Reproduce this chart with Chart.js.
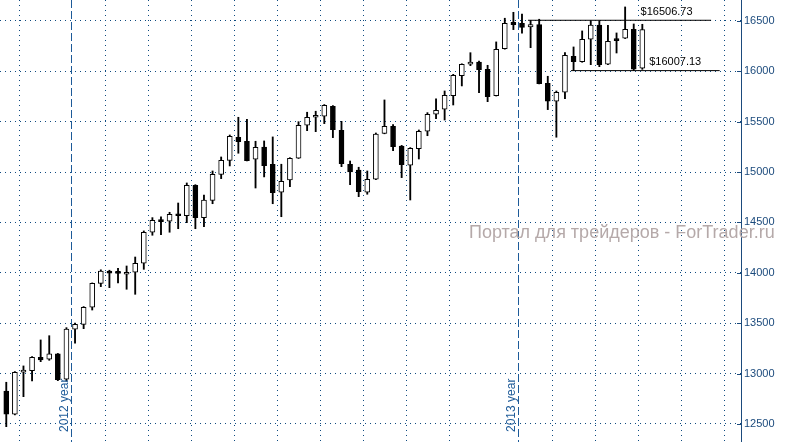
<!DOCTYPE html>
<html>
<head>
<meta charset="utf-8">
<script src="https://cdn.jsdelivr.net/npm/chart.js@4.4.0/dist/chart.umd.min.js"></script>
<style>
  html, body { margin: 0; padding: 0; background: #fff; }
  #wrap { width: 785px; height: 442px; }
</style>
</head>
<body>
<div id="wrap"><canvas id="chart"></canvas></div>
<script>
// weekly candles, index 0 = first bar on the left
const opens  = [12827,12596,13013,13029,13162,13142,13195,12944,13440,13489,13658,13896,14018,14005,13986,
                14006,14095,14403,14522,14512,14581,14567,14869,14548,14720,14978,15117,15346,15306,15127,
                15249,15078,14800,14922,15137,15465,15544,15554,15653,15415,15078,15021,14800,14929,15385,
                15455,15259,15068,15232,15405,15574,15624,15759,15957,16070,16093,16021,15759,16225,16487,
                16477,16440,16463,15882,15703,15792,16150,16096,16318,16460,16070,16318,16328,16418,16031];
const highs  = [12914,13020,13076,13170,13334,13376,13200,13456,13502,13665,13900,14030,14026,14045,14068,
                14157,14416,14548,14555,14601,14693,14892,14875,14773,15011,15150,15368,15544,15524,15306,
                15309,15349,15078,15143,15500,15594,15604,15670,15660,15504,15110,15048,15011,15388,15716,
                15471,15265,15243,15418,15590,15726,15805,15970,16075,16185,16103,16060,16292,16527,16586,
                16569,16505,16517,15951,15805,16185,16242,16401,16503,16503,16457,16381,16639,16470,16467];
const lows   = [12473,12590,12771,12927,13118,13132,12930,12925,13301,13446,13631,13863,13853,13899,13837,
                13787,14035,14373,14379,14403,14438,14498,14438,14458,14686,14935,15061,15187,15110,14842,
                14952,14686,14557,14855,15135,15411,15401,15481,15342,15054,14875,14756,14780,14925,15380,
                15213,14945,14723,15130,15361,15530,15517,15666,15855,16056,15788,15699,15755,16220,16414,
                16378,16235,15875,15620,15346,15729,16007,16090,16066,16046,16065,16182,16325,16007,16020];
const closes = [12596,13013,13036,13162,13135,13195,12940,13443,13489,13658,13896,14018,13996,13995,14006,
                14095,14403,14522,14508,14581,14567,14869,14548,14723,14978,15117,15355,15302,15113,15246,
                15064,14796,14909,15137,15465,15544,15564,15663,15421,15084,15001,14806,14929,15378,15455,
                15252,15074,15236,15405,15574,15614,15762,15961,16070,16093,16017,15749,16219,16477,16463,
                16437,16463,15878,15703,15792,16160,16096,16318,16460,16066,16298,16304,16418,16021,16414];

const priceTicks = [12500, 13000, 13500, 14000, 14500, 15000, 15500, 16000, 16500];
const gridWeeks = [2, 12, 17, 22, 27, 32, 37, 42, 47, 52, 64, 69, 74, 79, 84];
const yearWeeks = [8, 60];
const yearLabels = ['2012 year', '2013 year'];

const levels = [16506.73, 16007.13];
const levelLabels = ['$16506.73', '$16007.13'];
const levelFrom = [61, 66];
const levelTo = [82, 83];

const GRID = '#0e4a80';
const YEAR = '#1d5a98';
const AXIS = '#1b4a7c';

const idx = opens.map((_, i) => i);
const wickData = idx.map(i => ({ x: i, y: [lows[i], highs[i]] }));
const bodyData = idx.map(i => ({ x: i, y: [opens[i], closes[i]] }));
const bodyColors = idx.map(i => closes[i] >= opens[i] ? '#ffffff' : '#000000');

const isYearTick = c => c.tick && yearWeeks.includes(Math.round(c.tick.value + 0.43));

const levelSets = levels.map((lv, k) => ({
  type: 'line',
  data: [{ x: levelFrom[k] - 0.3, y: lv }, { x: levelTo[k], y: lv }],
  borderColor: '#000',
  borderWidth: 1,
  pointRadius: 0,
  order: 2
}));

const overlay = {
  id: 'overlay',
  beforeDatasetsDraw(chart) {
    const { ctx } = chart;
    ctx.save();
    ctx.fillStyle = '#b5a9a9';
    ctx.font = '18px "Liberation Sans", Arial, sans-serif';
    ctx.textBaseline = 'alphabetic';
    ctx.fillText('Портал для трейдеров - ForTrader.ru', 469, 238);
    ctx.restore();
  },
  afterDatasetsDraw(chart) {
    const { ctx, chartArea, scales: { x, y } } = chart;
    ctx.save();
    // short ticks left of the price axis
    ctx.strokeStyle = AXIS;
    ctx.lineWidth = 1;
    priceTicks.forEach(v => {
      const py = Math.round(y.getPixelForValue(v)) + 0.5;
      ctx.beginPath();
      ctx.moveTo(chartArea.right - 4, py);
      ctx.lineTo(chartArea.right, py);
      ctx.stroke();
    });
    // year captions
    ctx.fillStyle = YEAR;
    ctx.font = '12px "Liberation Sans", Arial, sans-serif';
    yearWeeks.forEach((w, k) => {
      const px = x.getPixelForValue(w - 0.43) - 3;
      ctx.save();
      ctx.translate(px, chartArea.bottom - 10);
      ctx.rotate(-Math.PI / 2);
      ctx.textAlign = 'left';
      ctx.textBaseline = 'alphabetic';
      ctx.fillText(yearLabels[k], 0, 0);
      ctx.restore();
    });
    // level captions
    ctx.fillStyle = '#000';
    ctx.font = '11px "Liberation Sans", Arial, sans-serif';
    ctx.textBaseline = 'bottom';
    const labelAt = [73.8, 74.8];
    levels.forEach((lv, k) => {
      ctx.fillText(levelLabels[k], x.getPixelForValue(labelAt[k]), y.getPixelForValue(lv) - 3);
    });
    ctx.restore();
  }
};

new Chart(document.getElementById('chart'), {
  type: 'bar',
  data: {
    datasets: [
      {
        data: bodyData,
        backgroundColor: bodyColors,
        borderColor: '#000',
        borderWidth: 1,
        borderSkipped: false,
        barThickness: 5,
        minBarLength: 2,
        grouped: false,
        order: 0
      },
      {
        data: wickData,
        backgroundColor: '#000',
        borderWidth: 0,
        barThickness: 1.2,
        grouped: false,
        order: 1
      },
      ...levelSets
    ]
  },
  options: {
    responsive: true,
    maintainAspectRatio: false,
    animation: false,
    layout: { padding: 0 },
    plugins: { legend: { display: false }, tooltip: { enabled: false } },
    scales: {
      x: {
        type: 'linear',
        min: -0.73,
        max: 85.48,
        offset: false,
        afterBuildTicks: s => {
          s.ticks = gridWeeks.concat(yearWeeks).map(w => ({ value: w - 0.43 }));
        },
        ticks: { display: false, autoSkip: false },
        grid: {
          offset: false,
          drawTicks: false,
          lineWidth: 1,
          color: c => isYearTick(c) ? YEAR : GRID
        },
        border: {
          display: false,
          dash: c => isYearTick(c) ? [8, 3] : [1, 4]
        },
        afterFit: s => { s.height = 0; s.paddingLeft = 0; s.paddingRight = 0; }
      },
      y: {
        position: 'right',
        min: 12321,
        max: 16708,
        afterBuildTicks: s => { s.ticks = priceTicks.map(v => ({ value: v })); },
        ticks: {
          color: AXIS,
          padding: 3,
          autoSkip: false,
          font: { family: '"Liberation Sans", Arial, sans-serif', size: 11 },
          callback: v => String(v)
        },
        grid: { drawTicks: false, color: GRID, lineWidth: 1 },
        border: { display: true, color: AXIS, width: 1, dash: [1, 4] },
        afterFit: s => { s.width = 44; s.paddingTop = 0; s.paddingBottom = 0; }
      }
    }
  },
  plugins: [overlay]
});
</script>
</body>
</html>
